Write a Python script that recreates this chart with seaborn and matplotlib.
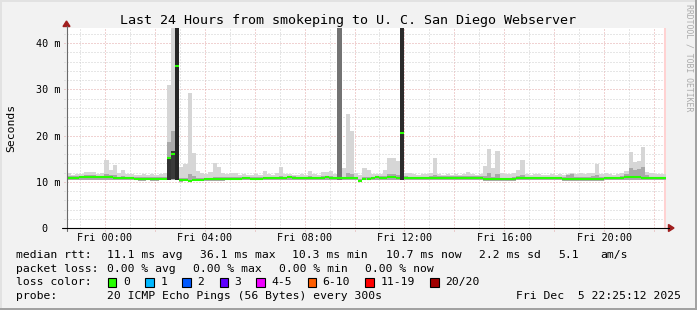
import matplotlib
matplotlib.use("Agg")
import matplotlib.pyplot as plt
import numpy as np
import pandas as pd
import seaborn as sns
from matplotlib.lines import Line2D
from matplotlib.patches import Polygon, Rectangle

# ---------------- data ----------------
title = "Last 24 Hours from smokeping to U. C. San Diego Webserver"
y_label = "Seconds"
watermark = "RRDTOOL / TOBI OETIKER"

start_hour = -1.52          # Thu 22:29, hours relative to Fri 00:00
step_hours = 1.0 / 6.0      # 10 minute steps
n_hours = 24

median_ms = [
    10.85, 10.85, 10.9, 11.0, 11.1, 11.1, 11.05, 11.0, 10.95, 11.0,
    11.05, 10.9, 10.8, 10.8, 10.75, 10.75, 10.7, 10.65, 10.65, 10.7,
    10.65, 10.65, 10.7, 10.7, 15.1, 16.0, 35.0, 10.4, 10.45, 10.2,
    10.45, 10.5, 10.5, 10.55, 10.6, 10.6, 10.65, 10.65, 10.7, 10.7,
    10.7, 10.7, 10.75, 10.75, 10.7, 10.7, 10.7, 10.75, 10.75, 10.75,
    10.8, 10.8, 10.8, 10.95, 10.9, 10.75, 10.75, 10.75, 10.75, 10.75,
    10.75, 10.85, 10.95, 10.8, 10.75, 10.75, 10.75, 10.75, 10.75, 10.75,
    10.2, 10.7, 10.7, 10.75, 10.95, 10.85, 10.9, 10.95, 10.95, 10.9,
    20.5, 10.85, 10.8, 10.75, 10.75, 10.75, 10.8, 10.85, 10.85, 10.85,
    10.85, 10.85, 10.85, 10.85, 10.85, 10.85, 10.85, 10.85, 10.85, 10.85,
    10.7, 10.6, 10.6, 10.6, 10.6, 10.6, 10.6, 10.7, 10.8, 10.8,
    10.8, 10.8, 10.8, 10.8, 10.8, 10.75, 10.75, 10.75, 10.75, 10.7,
    10.7, 10.7, 10.7, 10.7, 10.7, 10.7, 10.7, 10.7, 10.7, 10.75,
    10.75, 10.75, 10.75, 10.8, 10.95, 10.95, 10.95, 10.95, 10.9, 10.8,
    10.8, 10.75, 10.75, 10.75,
]

smoke_max_ms = [
    11.9, 11.5, 11.6, 11.6, 12.2, 12.2, 12.1, 11.6, 11.8, 14.7,
    12.6, 13.6, 11.9, 12.5, 11.7, 11.6, 11.5, 11.5, 11.7, 11.5,
    11.6, 11.5, 11.6, 12.0, 31.0, 43.5, 43.5, 13.3, 13.8, 29.2,
    16.2, 12.4, 11.8, 11.7, 12.2, 14.0, 13.3, 11.8, 11.6, 12.0,
    11.8, 11.5, 11.6, 11.5, 11.5, 11.6, 11.5, 12.3, 11.7, 11.5,
    12.0, 13.1, 11.7, 11.6, 11.5, 11.5, 11.6, 11.5, 12.3, 11.7,
    11.5, 12.2, 12.1, 12.3, 11.6, 43.5, 12.9, 24.7, 21.0, 12.0,
    11.4, 12.9, 12.6, 11.6, 11.6, 11.6, 12.5, 15.1, 15.2, 14.5,
    43.5, 12.0, 12.0, 11.6, 11.5, 11.6, 11.6, 11.9, 15.1, 11.7,
    11.5, 11.6, 11.5, 11.6, 11.5, 11.6, 12.2, 11.7, 11.5, 11.6,
    13.5, 17.2, 13.0, 16.6, 11.8, 11.6, 11.6, 12.0, 12.6, 14.8,
    11.7, 11.5, 11.6, 11.7, 11.5, 11.5, 11.6, 11.5, 11.6, 11.5,
    11.7, 12.0, 11.6, 11.8, 11.6, 11.9, 12.0, 13.8, 11.7, 11.8,
    11.6, 11.5, 11.6, 11.9, 12.4, 16.4, 14.3, 14.5, 17.6, 12.2,
    11.8, 11.7, 11.6, 11.6,
]

smoke_mid_ms = [
    11.15, 11.15, 11.2, 11.3, 11.45, 11.45, 11.4, 11.3, 11.25, 11.6,
    11.5, 11.4, 11.1, 11.2, 11.05, 11.05, 11.0, 10.95, 10.95, 11.0,
    10.95, 10.95, 11.0, 11.1, 18.6, 21.0, 43.5, 10.8, 10.9, 11.6,
    11.2, 10.85, 10.8, 10.85, 10.9, 11.1, 11.0, 10.95, 11.0, 11.05,
    11.0, 11.0, 11.05, 11.05, 11.0, 11.0, 11.0, 11.1, 11.05, 11.05,
    11.1, 11.3, 11.1, 11.25, 11.2, 11.05, 11.05, 11.05, 11.15, 11.05,
    11.05, 11.2, 11.25, 11.2, 11.05, 43.5, 11.1, 12.0, 11.6, 11.05,
    10.6, 11.1, 11.0, 11.05, 11.25, 11.15, 11.3, 11.6, 11.6, 11.4,
    43.5, 11.15, 11.1, 11.05, 11.05, 11.05, 11.1, 11.15, 11.5, 11.15,
    11.15, 11.15, 11.15, 11.2, 11.15, 11.15, 11.3, 11.2, 11.15, 11.15,
    11.2, 11.8, 11.1, 11.6, 10.9, 10.9, 10.9, 11.1, 11.2, 11.4,
    11.1, 11.1, 11.1, 11.1, 11.1, 11.05, 11.05, 11.05, 11.05, 11.0,
    11.4, 11.7, 11.0, 11.1, 11.0, 11.1, 11.2, 11.4, 11.0, 11.1,
    11.05, 11.05, 11.05, 11.3, 11.6, 12.9, 12.6, 12.8, 13.1, 11.4,
    11.1, 11.05, 11.05, 11.05,
]

smoke_min_ms = [
    10.4, 10.4, 10.4, 10.5, 10.5, 10.5, 10.5, 10.5, 10.4, 10.4,
    10.4, 10.4, 10.35, 10.35, 10.3, 10.3, 10.3, 10.25, 10.25, 10.3,
    10.25, 10.25, 10.3, 10.3, 10.4, 10.5, 10.5, 10.05, 10.1, 9.95,
    10.1, 10.15, 10.15, 10.2, 10.2, 10.2, 10.25, 10.25, 10.3, 10.3,
    10.3, 10.3, 10.3, 10.3, 10.3, 10.3, 10.3, 10.3, 10.3, 10.3,
    10.35, 10.35, 10.35, 10.4, 10.4, 10.3, 10.3, 10.3, 10.3, 10.3,
    10.3, 10.35, 10.4, 10.35, 10.3, 10.3, 10.3, 10.3, 10.3, 10.3,
    9.95, 10.3, 10.3, 10.3, 10.4, 10.35, 10.4, 10.4, 10.4, 10.4,
    10.5, 10.35, 10.3, 10.3, 10.3, 10.3, 10.3, 10.35, 10.35, 10.35,
    10.35, 10.35, 10.35, 10.35, 10.35, 10.35, 10.35, 10.35, 10.35, 10.35,
    10.25, 10.15, 10.15, 10.15, 10.15, 10.15, 10.15, 10.25, 10.3, 10.3,
    10.3, 10.3, 10.3, 10.3, 10.3, 10.3, 10.3, 10.3, 10.3, 10.25,
    10.25, 10.25, 10.25, 10.25, 10.25, 10.25, 10.25, 10.25, 10.25, 10.3,
    10.3, 10.3, 10.3, 10.35, 10.4, 10.4, 10.4, 10.4, 10.4, 10.35,
    10.35, 10.3, 10.3, 10.3,
]

dark_steps = [24, 25, 26, 65, 80]
dark_bottom_ms = [10.5, 10.6, 10.5, 10.4, 10.5]
dark_top_ms = [15.1, 16.6, 43.5, 43.5, 43.5]

x_tick_hours = [0, 4, 8, 12, 16, 20]
x_tick_labels = ["Fri 00:00", "Fri 04:00", "Fri 08:00", "Fri 12:00", "Fri 16:00", "Fri 20:00"]
y_tick_values = [0, 10, 20, 30, 40]
y_tick_labels = ["0", "10 m", "20 m", "30 m", "40 m"]

rtt_label = "median rtt:"
rtt_stats = ["11.1 ms avg", "36.1 ms max", "10.3 ms min", "10.7 ms now", "2.2 ms sd", "5.1", "am/s"]
loss_label = "packet loss:"
loss_stats = ["0.00 % avg", "0.00 % max", "0.00 % min", "0.00 % now"]
color_label = "loss color:"
loss_classes = ["0", "1", "2", "3", "4-5", "6-10", "11-19", "20/20"]
probe_label = "probe:"
probe_text = "20 ICMP Echo Pings (56 Bytes) every 300s"
timestamp = "Fri Dec  5 22:25:12 2025"

# ---------------- style ----------------
W, H = 697, 310
sns.set_theme(style="white")
plt.rcParams["font.family"] = ["DejaVu Sans Mono"]
plt.rcParams["text.color"] = "black"

loss_colors = ["#26ff00", "#00b8ff", "#0059ff", "#5e00ff", "#f000ff", "#ff5e00", "#ff0000", "#a10000"]
dark_colors = ["#333333", "#3a3a3a", "#262626", "#737373", "#2c2c2c"]
light_col = "#d6d6d6"
mid_col = "#a9a9a9"
minor_grid = "#cfcfcf"
major_grid = "#e2a6a6"

def fx(x):
    return x / W

def fy(y):
    return 1 - y / H

fig = plt.figure(figsize=(W / 100, H / 100), dpi=100)
fig.patch.set_facecolor("#f2f2f2")

ax_l, ax_r, ax_t, ax_b = 67, 666, 28, 228
ax = fig.add_axes([fx(ax_l), fy(ax_b), (ax_r - ax_l) / W, (ax_b - ax_t) / H])
ax.set_facecolor("white")
y_max = 43.3
x0, x1 = start_hour, start_hour + n_hours
ax.set_xlim(x0, x1)
ax.set_ylim(0, y_max)
for s in ax.spines.values():
    s.set_visible(False)
ax.set_xticks([])
ax.set_yticks([])

px_per_h = (ax_r - ax_l) / n_hours
px_per_ms = (ax_b - ax_t) / y_max

# grid (dotted, extending a few pixels past the axes as ticks)
hours = np.arange(np.ceil(x0), x1)
ext_y = -3 / px_per_ms
ext_x = x0 - 3 / px_per_h
for h in hours:
    col = major_grid if int(h) % 2 == 0 else minor_grid
    ax.vlines(h, ext_y, y_max, colors=col, linewidth=0.72,
              linestyles=(0, (1, 2)), clip_on=False, zorder=1)
for v in np.arange(2, y_max, 2):
    col = major_grid if int(v) % 10 == 0 else minor_grid
    ax.hlines(v, ext_x, x1, colors=col, linewidth=0.72,
              linestyles=(0, (1, 2)), clip_on=False, zorder=1)

# smoke
n = len(median_ms)
starts = start_hour + np.arange(n) * step_hours
edges = np.append(starts, starts[-1] + step_hours)
def ext(a):
    a = np.asarray(a, float)
    return np.append(a, a[-1])
ax.fill_between(edges, ext(smoke_min_ms), ext(np.minimum(smoke_max_ms, y_max)),
                step="post", color=light_col, linewidth=0, zorder=2)
ax.fill_between(edges, ext(smoke_min_ms), ext(np.minimum(smoke_mid_ms, y_max)),
                step="post", color=mid_col, linewidth=0, zorder=3)
for k, st in enumerate(dark_steps):
    ax.bar(starts[st], min(dark_top_ms[k], y_max) - dark_bottom_ms[k],
           bottom=dark_bottom_ms[k], width=step_hours, align="edge",
           color=dark_colors[k], linewidth=0, zorder=4)

# median: one short horizontal segment per step
seg = pd.DataFrame({
    "t": np.concatenate([starts, starts + step_hours]),
    "ms": np.concatenate([median_ms, median_ms]),
    "step": np.concatenate([np.arange(n), np.arange(n)]),
})
sns.lineplot(data=seg, x="t", y="ms", units="step", estimator=None,
             color=loss_colors[0], linewidth=1.5, ax=ax, legend=False, zorder=5,
             solid_capstyle="butt")
ax.set_xlabel("")
ax.set_ylabel("")
ax.set_xlim(x0, x1)
ax.set_ylim(0, y_max)

# pink marker at right edge
ax.axvline(x1 - 1.0 / px_per_h, color="#ffd2d2", linewidth=1.5, zorder=1)

# axes lines and arrows
fig.add_artist(Line2D([fx(66.5), fx(66.5)], [fy(231), fy(26)], color="#6a6a6a", linewidth=0.8))
fig.add_artist(Line2D([fx(62), fx(669)], [fy(228), fy(228)], color="black", linewidth=0.8))
fig.add_artist(Polygon([[fx(63), fy(26.5)], [fx(70), fy(26.5)], [fx(66.5), fy(21)]],
                       closed=True, color="#a01e1e", transform=fig.transFigure))
fig.add_artist(Polygon([[fx(668.5), fy(224.5)], [fx(668.5), fy(231.5)], [fx(674), fy(228)]],
                       closed=True, color="#a01e1e", transform=fig.transFigure))

# tick labels
tick_fs = 7.3
char_w = tick_fs * 100 / 72 * 0.602
for h, lab in zip(x_tick_hours, x_tick_labels):
    xp = ax_l + (h - x0) * px_per_h
    fig.text(fx(xp), fy(241), lab, ha="center", va="baseline", fontsize=tick_fs)
for v, lab in zip(y_tick_values, y_tick_labels):
    yp = ax_b - v * px_per_ms
    xr = 60 if " " in lab else 60 - 2 * char_w
    fig.text(fx(xr), fy(yp), lab, ha="right", va="center_baseline", fontsize=tick_fs)

# title, unit, watermark
fig.text(fx(348.5), fy(24), title, ha="center", va="baseline", fontsize=9.6)
fig.text(fx(11), fy(128), y_label, ha="center", va="center", rotation=90, fontsize=8.2)
fig.text(fx(688.5), fy(4), watermark, ha="center", va="top", rotation=270,
         fontsize=5.9, color="#ababab")

# legend block
lf = 8.2
rows_y = [258, 271.7, 285.4, 299]
fig.text(fx(16.4), fy(rows_y[0]), rtt_label, fontsize=lf, va="baseline")
for s, xp in zip(rtt_stats, [107.3, 200, 292.3, 386.2, 479.1, 557.8, 600]):
    fig.text(fx(xp), fy(rows_y[0]), s, fontsize=lf, va="baseline")
fig.text(fx(16.4), fy(rows_y[1]), loss_label, fontsize=lf, va="baseline")
for s, xp in zip(loss_stats, [107.3, 193.3, 279.3, 365.3]):
    fig.text(fx(xp), fy(rows_y[1]), s, fontsize=lf, va="baseline")
fig.text(fx(16.4), fy(rows_y[2]), color_label, fontsize=lf, va="baseline")
box_x = [108, 145.3, 182.2, 219.6, 256.4, 307.6, 365.3, 430.2]
for s, c, bx in zip(loss_classes, loss_colors, box_x):
    fig.add_artist(Rectangle((fx(bx), fy(286.8)), 8.4 / W, 8.6 / H, transform=fig.transFigure,
                             facecolor=c, edgecolor="black", linewidth=0.8))
    fig.text(fx(bx + 15), fy(rows_y[2]), s, fontsize=lf, va="baseline")
fig.text(fx(16.4), fy(rows_y[3]), probe_label, fontsize=lf, va="baseline")
fig.text(fx(107.3), fy(rows_y[3]), probe_text, fontsize=lf, va="baseline")
fig.text(fx(680.5), fy(rows_y[3]), timestamp, fontsize=lf, va="baseline", ha="right")

# 3D frame of the canvas
fig.add_artist(Rectangle((0, fy(2)), 1, 2 / H, transform=fig.transFigure, color="#e2e2e2", linewidth=0))
fig.add_artist(Rectangle((0, 0), 2 / W, 1, transform=fig.transFigure, color="#e2e2e2", linewidth=0))
fig.add_artist(Rectangle((0, 0), 1, 2.5 / H, transform=fig.transFigure, color="#a2a2a2", linewidth=0))
fig.add_artist(Rectangle((fx(695), 0), 2 / W, 1, transform=fig.transFigure, color="#a2a2a2", linewidth=0))

fig.savefig("out.png", dpi=100, facecolor=fig.get_facecolor())
